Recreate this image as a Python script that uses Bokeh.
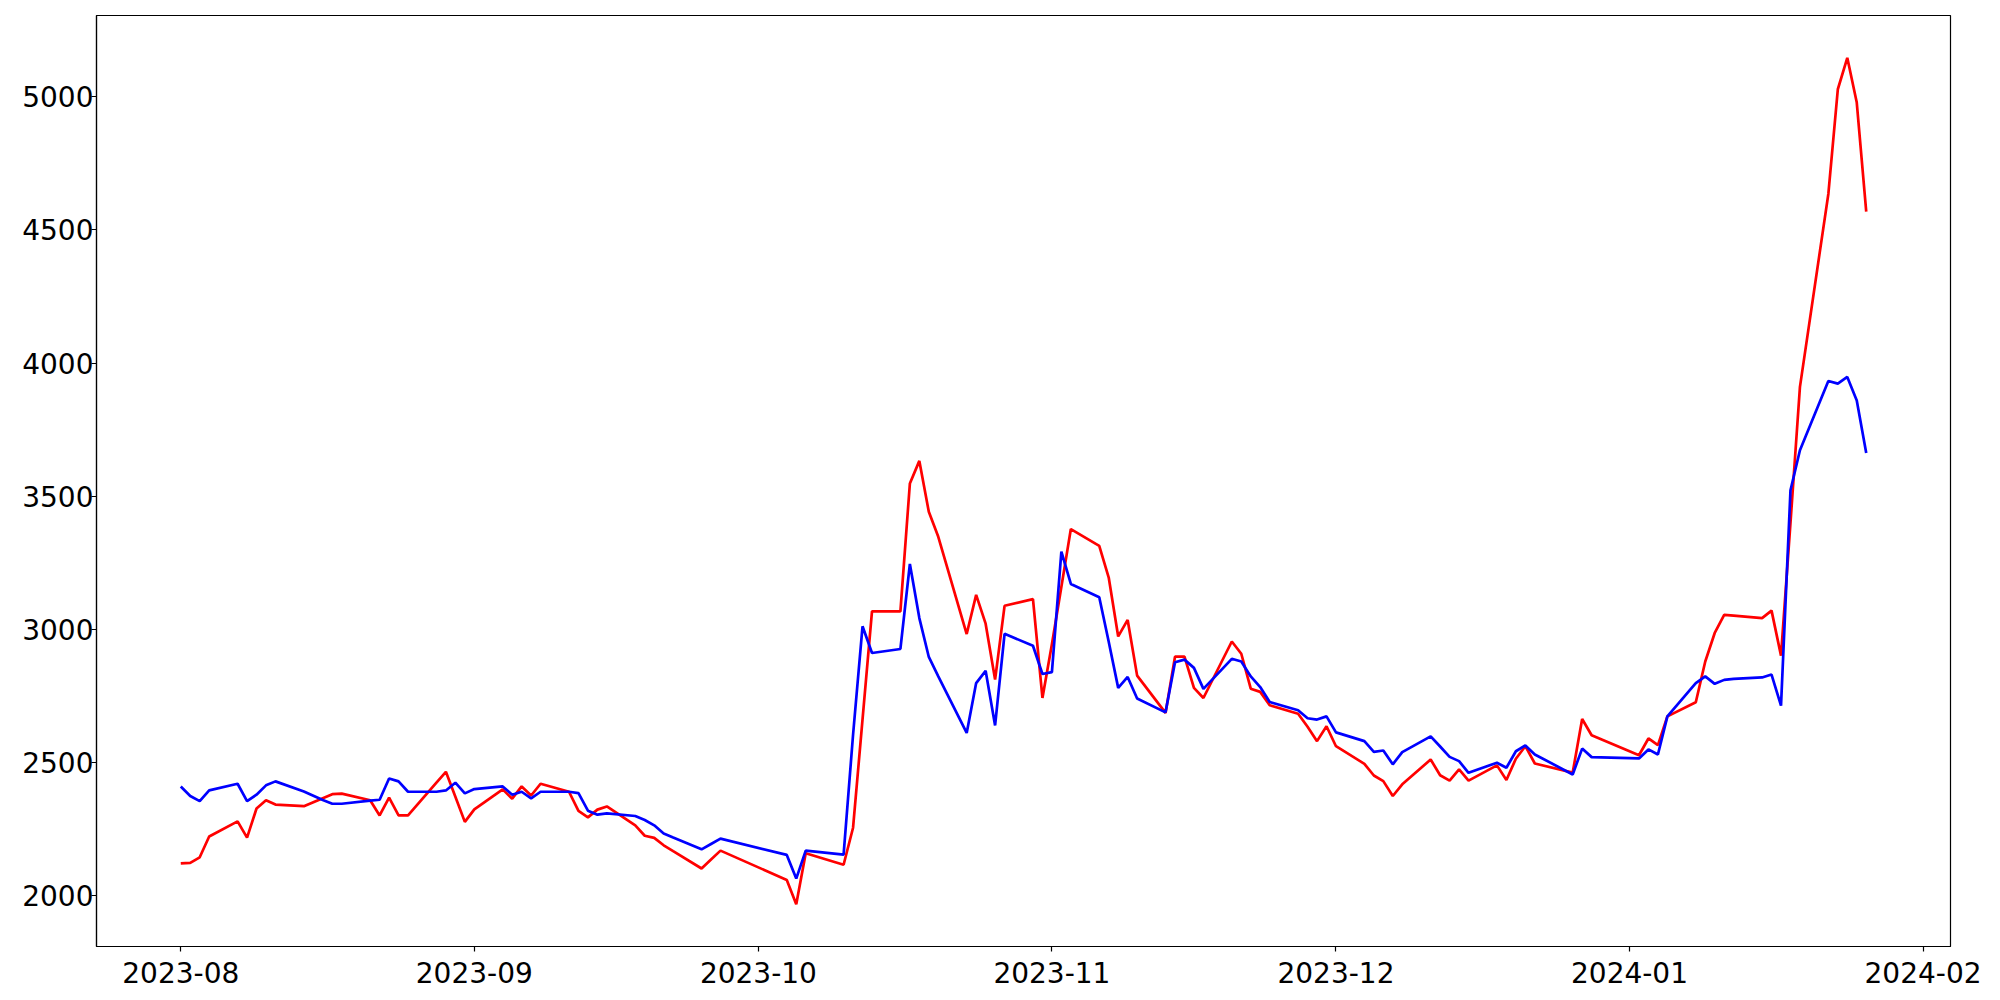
from datetime import datetime, timedelta
import pandas as pd
from bokeh.plotting import figure
from bokeh.models import Range1d, FixedTicker, DatetimeTickFormatter, ColumnDataSource
from bokeh.embed import file_html
from bokeh.resources import INLINE

# ---- data -------------------------------------------------------------
holidays = ["2023-08-15", "2023-09-28", "2023-09-29", "2023-10-02", "2023-10-03",
            "2023-10-09", "2023-12-25", "2023-12-29", "2024-01-01"]
dates = pd.bdate_range("2023-08-01", "2024-01-26").drop(pd.to_datetime(holidays))

red_values = [
    # Aug
    2122, 2124, 2145, 2223, 2280, 2219, 2328, 2359, 2343, 2337, 2367, 2382, 2384, 2359, 2302, 2369, 2302, 2302, 2425, 2466, 2372, 2278,
    # Sep
    2325, 2400, 2365, 2411, 2377, 2421, 2391, 2319, 2295, 2324, 2336, 2265, 2226, 2218, 2190, 2168, 2103, 2137, 2170,
    # Oct
    2060, 1969, 2160, 2117, 2256, 2663, 3068, 3068, 3548, 3633, 3442, 3348, 2983, 3130, 3022, 2812, 3089, 3114, 2743,
    # Nov
    2945, 3160, 3377, 3314, 3195, 2974, 3036, 2827, 2687, 2898, 2898, 2781, 2743, 2955, 2909, 2778, 2766, 2716, 2684, 2635, 2581, 2637,
    # Dec
    2562, 2496, 2452, 2431, 2375, 2419, 2512, 2453, 2433, 2475, 2433, 2490, 2435, 2515, 2562, 2497, 2463, 2664, 2603,
    # Jan
    2528, 2591, 2566, 2674, 2727, 2880, 2987, 3055, 3052, 3043, 3071, 2902, 3400, 3911, 4635, 5028, 5146, 4978, 4569,
]

blue_values = [
    # Aug
    2411, 2375, 2356, 2396, 2421, 2356, 2380, 2415, 2430, 2392, 2360, 2346, 2346, 2358, 2361, 2441, 2430, 2391, 2391, 2396, 2425, 2385,
    # Sep
    2401, 2411, 2380, 2391, 2366, 2391, 2391, 2386, 2320, 2305, 2310, 2300, 2285, 2265, 2234, 2219, 2175, 2195, 2215,
    # Oct
    2154, 2065, 2170, 2155, 2605, 3012, 2912, 2927, 3246, 3043, 2897, 2824, 2612, 2799, 2845, 2640, 2984, 2939, 2833,
    # Nov
    2840, 3292, 3171, 3121, 2954, 2781, 2822, 2741, 2689, 2877, 2887, 2856, 2777, 2890, 2880, 2824, 2784, 2728, 2697, 2667, 2662, 2674,
    # Dec
    2614, 2581, 2541, 2546, 2494, 2540, 2599, 2561, 2522, 2506, 2462, 2500, 2481, 2543, 2565, 2531, 2456, 2553, 2521,
    # Jan
    2516, 2550, 2531, 2674, 2799, 2824, 2796, 2811, 2815, 2820, 2831, 2714, 3523, 3673, 3933, 3923, 3948, 3860, 3663,
]

x_tick_dates = ["2023-08-01", "2023-09-01", "2023-10-01", "2023-11-01",
                "2023-12-01", "2024-01-01", "2024-02-01"]
y_ticks = [2000, 2500, 3000, 3500, 4000, 4500, 5000]

assert len(dates) == len(red_values) == len(blue_values), (len(dates), len(red_values), len(blue_values))

source = ColumnDataSource(dict(date=list(dates), red=red_values, blue=blue_values))

# ---- ranges (matplotlib-like 5% margins) -------------------------------
t0, t1 = dates[0], dates[-1]
dt = (t1 - t0) * 0.05
all_vals = red_values + blue_values
vmin, vmax = min(all_vals), max(all_vals)
dv = (vmax - vmin) * 0.05

W, H = 1992, 992
p = figure(width=W, height=H, output_backend="svg", toolbar_location=None,
           x_axis_type="datetime",
           x_range=Range1d(t0 - dt, t1 + dt),
           y_range=Range1d(vmin - dv, vmax + dv),
           min_border_left=96, min_border_right=42,
           min_border_top=15, min_border_bottom=46)

p.line("date", "red", source=source, line_color="red", line_width=2.7)
p.line("date", "blue", source=source, line_color="blue", line_width=2.7)

# ---- styling -----------------------------------------------------------
p.grid.visible = False
p.background_fill_color = "white"
p.border_fill_color = "white"
p.outline_line_color = "black"
p.outline_line_width = 1.2
p.outline_line_alpha = 1.0

tick_ms = [pd.Timestamp(d).value / 1e6 for d in x_tick_dates]
p.xaxis.ticker = FixedTicker(ticks=tick_ms)
fmt = "%Y-%m"
p.xaxis.formatter = DatetimeTickFormatter(
    microseconds=fmt, milliseconds=fmt, seconds=fmt, minsec=fmt, minutes=fmt,
    hourmin=fmt, hours=fmt, days=fmt, months=fmt, years=fmt)
p.yaxis.ticker = FixedTicker(ticks=y_ticks)

for ax in (p.xaxis[0], p.yaxis[0]):
    ax.major_label_text_font = "DejaVu Sans"
    ax.major_label_text_font_size = "28px"
    ax.major_label_text_color = "black"
    ax.axis_line_color = "black"
    ax.axis_line_width = 1.2
    ax.major_tick_line_color = "black"
    ax.major_tick_line_width = 1.2
    ax.major_tick_in = 0
    ax.major_tick_out = 5
    ax.minor_tick_line_color = None

p.yaxis[0].major_label_standoff = -2
p.xaxis[0].major_label_standoff = 10

open("out.html", "w").write(file_html(p, INLINE))
